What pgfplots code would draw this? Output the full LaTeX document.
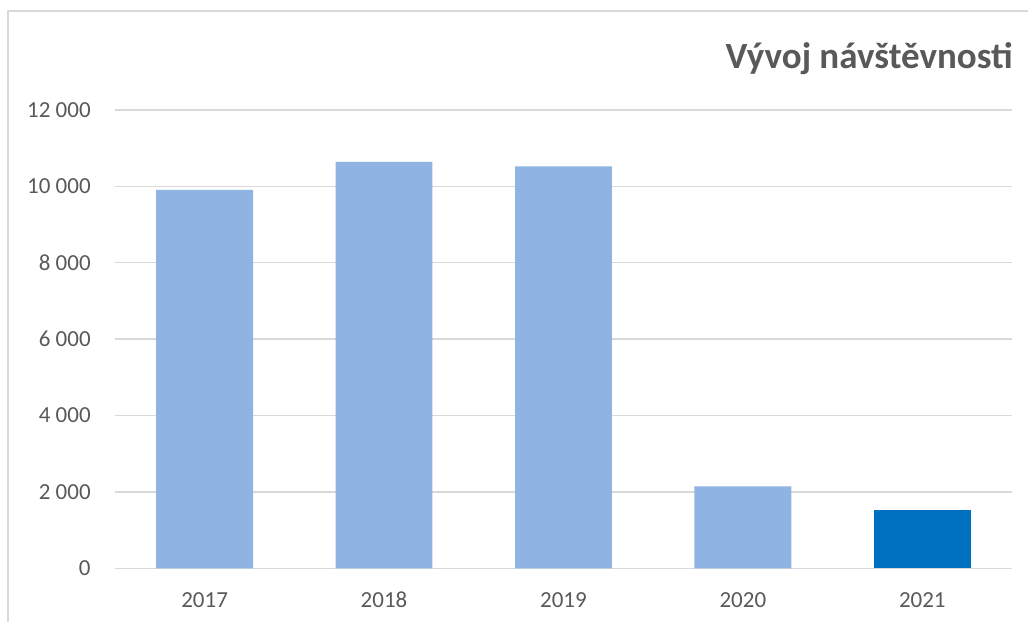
\documentclass[border=0pt]{standalone}
\usepackage{fontspec}
\setmainfont{Carlito}
\usepackage{pgfplots}
\pgfplotsset{compat=1.18}
\definecolor{txt}{HTML}{595959}
\definecolor{grd}{HTML}{D9D9D9}
\definecolor{barl}{HTML}{8FB4E3}
\definecolor{bard}{HTML}{0070C0}
\begin{document}
\begin{tikzpicture}[x=0.75pt,y=0.75pt]
\path (0,0) rectangle (1029,623);
\draw[grd, line width=1.5pt] (8.5,0) -- (8.5,612) -- (1029,612);
\node[anchor=base east, inner sep=0pt, text=txt, font=\fontsize{27.75pt}{32pt}\selectfont\bfseries] at (1014,554) {Vývoj návštěvnosti};
\begin{axis}[
  at={(86.25pt,40.5pt)}, anchor=south west,
  scale only axis, width=673.5pt, height=344.25pt,
  xmin=-0.5, xmax=4.5, ymin=0, ymax=12000,
  xtick={0,1,2,3,4}, xticklabels={2017,2018,2019,2020,2021},
  ytick={0,2000,4000,6000,8000,10000,12000},
  scaled ticks=false,
  /pgf/number format/.cd, assume math mode=true, 1000 sep={\ },
  /pgfplots/.cd,
  axis line style={draw=none},
  major tick length=0pt,
  ymajorgrids, grid style={grd, line width=1.1pt},
  tick label style={text=txt, font=\fontsize{17.25pt}{20pt}\selectfont, inner sep=0pt},
  yticklabel style={anchor=east},
  xticklabel style={anchor=base},
  yticklabel shift=18pt,
  xticklabel shift=29.25pt,
  clip=false,
]
\addplot[ybar, bar width=72.75pt, bar shift=0pt, fill=barl, draw=none] coordinates {(0,9906) (1,10640) (2,10520) (3,2145)};
\addplot[ybar, bar width=72.75pt, bar shift=0pt, fill=bard, draw=none] coordinates {(4,1517)};
\end{axis}
\end{tikzpicture}
\end{document}
